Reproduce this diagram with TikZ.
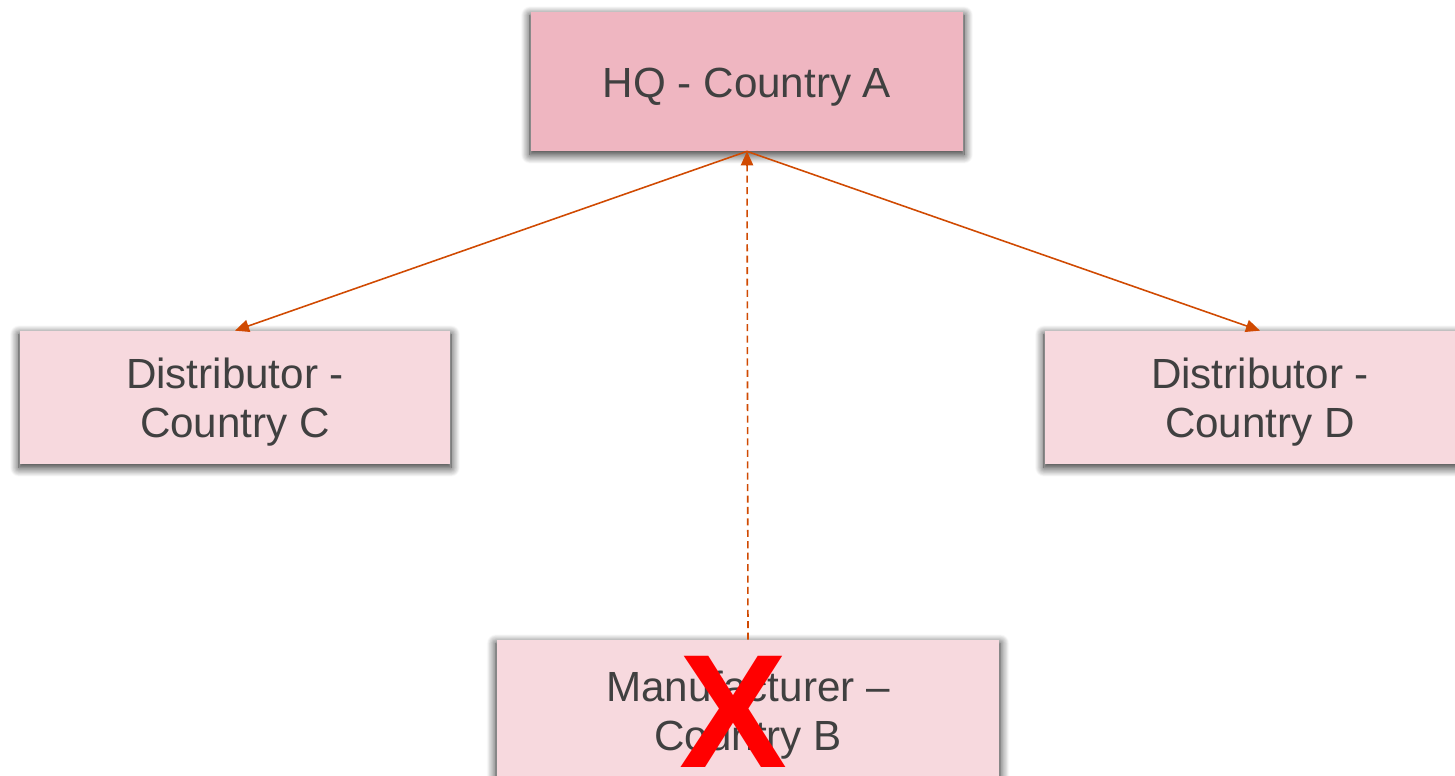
\documentclass[tikz,border=0pt]{standalone}
\usepackage{fontspec}
\setmainfont{Liberation Sans}
\definecolor{main}{RGB}{239,182,193}
\definecolor{second}{RGB}{247,217,222}
\definecolor{third}{RGB}{208,74,2}
\definecolor{fourth}{RGB}{64,64,64}
\definecolor{fifth}{RGB}{255,0,0}
\usetikzlibrary{
	arrows.meta,
	positioning,
	shadows.blur
}
\newcommand{\cstup}{\rule{0pt}{23pt}}
\tikzset{
  % arrow
	cstra/.style      ={-{Triangle[length=8pt,width=7pt]}, third, line width=0.9pt},
	cstdash/.style    ={cstra, dash pattern=on 4pt off 2.5pt},
  % node
	cstnode/.style    ={fill=second, text=fourth, align=center, inner sep=0pt,
	                    font=\fontsize{24}{28}\selectfont,
	                    blur shadow={shadow xshift=0pt, shadow yshift=-2pt, shadow scale=1.005,
	                                 shadow blur radius=5pt, shadow blur steps=12, shadow opacity=85}},
	cstnode1/.style   ={cstnode, fill=main},
	cstcross/.style   ={text=fifth, inner sep=0pt, font=\fontsize{92}{92}\selectfont\bfseries}
}
\begin{document}
\begin{tikzpicture}
			\useasboundingbox (0,0) rectangle (29.1,15.5);
			\begin{scope}
				\clip (0,0) rectangle (29.1,15.5);
				\node[cstnode1, minimum width=8.64cm, minimum height=2.78cm] (hq) at (14.94,13.87) {\cstup HQ - Country A};
				\node[cstnode, minimum width=8.6cm, minimum height=2.66cm] (distc) at (4.7,7.55) {\cstup Distributor -\\Country C};
				\node[cstnode, minimum width=8.6cm, minimum height=2.66cm] (distd) at (25.2,7.55) {\cstup Distributor -\\Country D};
				\node[cstnode, minimum width=10.04cm, minimum height=2.8cm] (manb) at (14.96,1.3) {\cstup Manufacturer --\\Country B};
				\node[cstcross] (cross) at (14.66,1.26) {X};
			\end{scope}
			\draw[cstra] (hq.south) -- (distc.north);
			\draw[cstra] (hq.south) -- (distd.north);
			\draw[cstdash] (manb.north) -- (hq.south);
		\end{tikzpicture}
\end{document}
